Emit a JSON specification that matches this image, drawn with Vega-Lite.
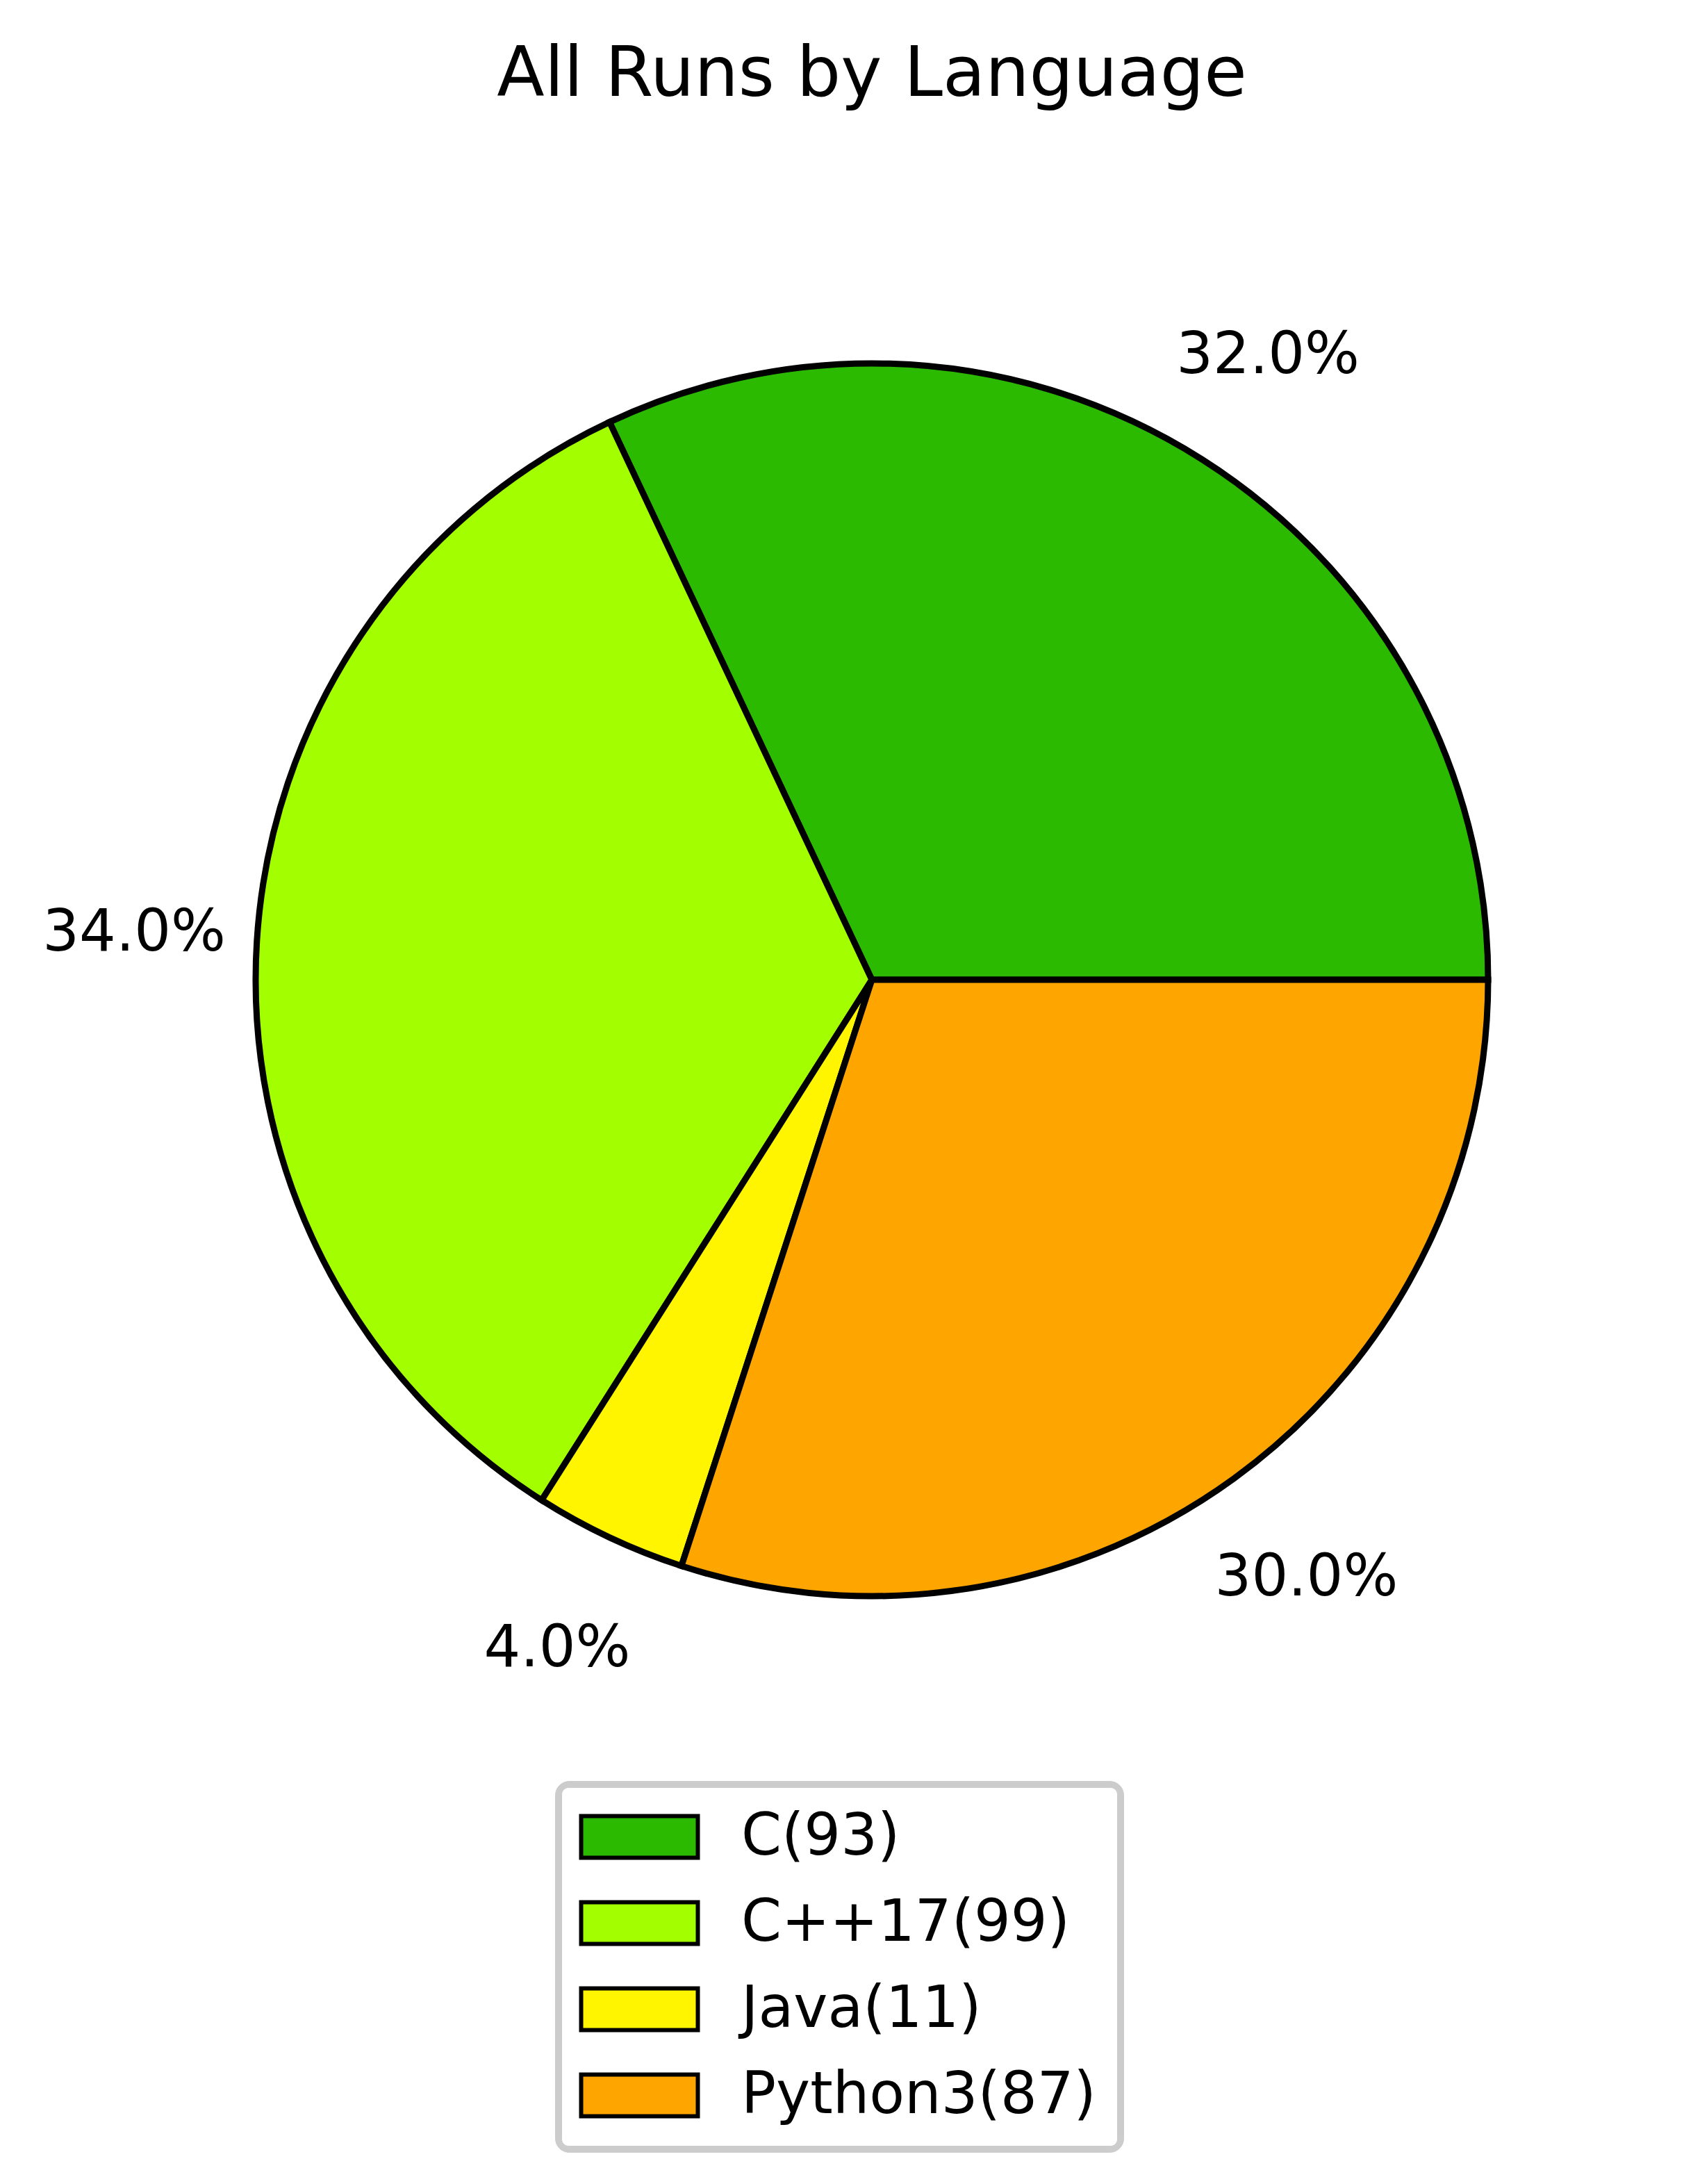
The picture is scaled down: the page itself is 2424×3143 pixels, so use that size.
{
  "$schema": "https://vega.github.io/schema/vega-lite/v6.json",
  "width": 2344,
  "height": 2418,
  "padding": {"left": 61, "right": 0, "top": 58, "bottom": 0},
  "background": "white",
  "title": {
    "text": "All Runs by Language",
    "font": "DejaVu Sans",
    "fontSize": 100,
    "fontWeight": "normal",
    "color": "black",
    "anchor": "middle",
    "offset": 42
  },
  "data": {
    "values": [
      {"label": "C(93)", "share": 0.32},
      {"label": "C++17(99)", "share": 0.34},
      {"label": "Java(11)", "share": 0.04},
      {"label": "Python3(87)", "share": 0.30}
    ]
  },
  "encoding": {
    "theta": {
      "field": "share",
      "type": "quantitative",
      "stack": true,
      "scale": {"range": [1.5708, 7.854]}
    },
    "order": {"field": "label", "sort": "descending"}
  },
  "layer": [
    {
      "mark": {"type": "arc", "radius": 887, "stroke": "black", "strokeWidth": 9, "strokeJoin": "miter"},
      "encoding": {
        "color": {
          "field": "label",
          "type": "nominal",
          "scale": {
            "domain": ["C(93)", "C++17(99)", "Java(11)", "Python3(87)"],
            "range": ["#2cba00", "#a3ff00", "#fff500", "#ffa500"]
          },
          "legend": {
            "orient": "none",
            "legendX": 725,
            "legendY": 2371,
            "zindex": 3,
            "title": null,
            "symbolType": "M-2.8,-1H2.8V1H-2.8Z",
            "symbolSize": 3600,
            "symbolOffset": 41,
            "symbolStrokeColor": "black",
            "symbolStrokeWidth": 6,
            "symbolOpacity": 1,
            "labelFont": "DejaVu Sans",
            "labelFontSize": 83,
            "labelColor": "black",
            "labelOffset": 105,
            "labelLimit": 0,
            "rowPadding": 39,
            "padding": 30,
            "fillColor": "white",
            "strokeColor": "#cccccc",
            "cornerRadius": 10
          }
        },
        "opacity": {
          "field": "label",
          "type": "nominal",
          "scale": {"range": [1, 1, 1, 1]},
          "legend": {
            "orient": "none",
            "legendX": 716,
            "legendY": 2362,
            "zindex": 2,
            "title": null,
            "symbolType": "M-2.8,-1H2.8V1H-2.8Z",
            "symbolSize": 3600,
            "symbolOffset": 41,
            "symbolFillColor": "#cccccc",
            "symbolStrokeColor": "#cccccc",
            "symbolStrokeWidth": 6,
            "labelFont": "DejaVu Sans",
            "labelFontSize": 83,
            "labelColor": "#cccccc",
            "labelOffset": 105,
            "labelLimit": 0,
            "rowPadding": 39,
            "padding": 39,
            "fillColor": "#cccccc",
            "strokeColor": "#cccccc",
            "cornerRadius": 20
          }
        },
        "strokeOpacity": {
          "field": "label",
          "type": "nominal",
          "scale": {
            "domain": ["Python3(87)", "Java(11)", "C++17(99)", "C(93)"],
            "range": [1, 1, 1, 1]
          },
          "legend": {
            "orient": "none",
            "legendX": 732,
            "legendY": 2378,
            "zindex": 1,
            "title": null,
            "symbolType": "M-2.8,-1H2.8V1H-2.8Z",
            "symbolSize": 3600,
            "symbolOffset": 41,
            "symbolFillColor": "#a0a0a0",
            "symbolStrokeColor": "#a0a0a0",
            "symbolStrokeWidth": 6,
            "labelFont": "DejaVu Sans",
            "labelFontSize": 83,
            "labelColor": "#a0a0a0",
            "labelOffset": 105,
            "labelLimit": 0,
            "rowPadding": 39,
            "padding": 39,
            "fillColor": "#a0a0a0",
            "strokeColor": "#8c8c8c",
            "cornerRadius": 20
          }
        }
      }
    },
    {
      "mark": {"type": "text", "radius": 1064, "font": "DejaVu Sans", "fontSize": 83, "color": "black", "align": "center", "baseline": "middle"},
      "encoding": {
        "text": {"field": "share", "type": "quantitative", "format": ".1%"}
      }
    }
  ],
  "config": {"view": {"stroke": null}}
}
